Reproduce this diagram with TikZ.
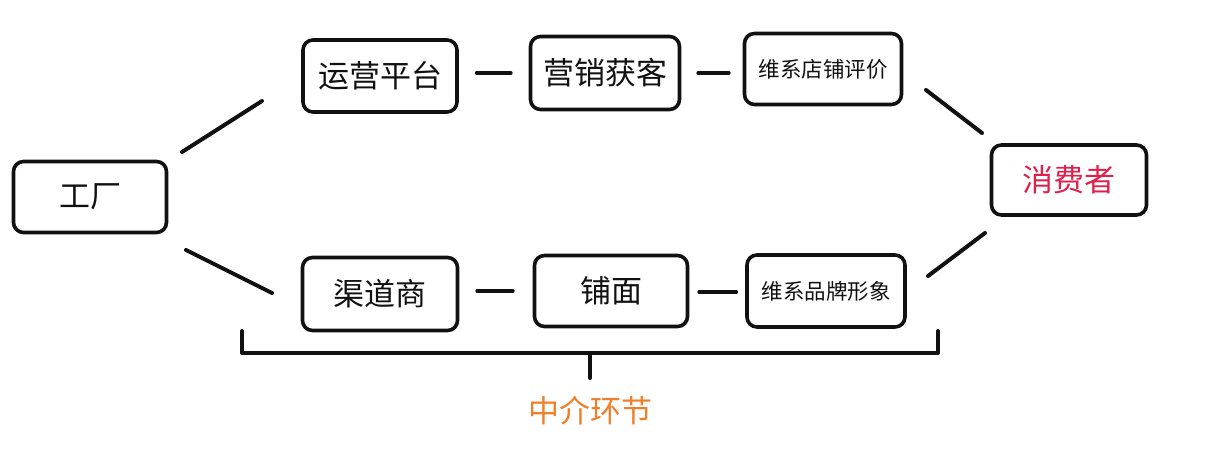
\documentclass[tikz,border=0pt]{standalone}
\usepackage{fontspec}
\newfontfamily\cjk{Noto Sans CJK SC}
\definecolor{consumer}{HTML}{E0204A}
\definecolor{midorange}{HTML}{F07F2A}
\definecolor{ink}{HTML}{111111}
\begin{document}
\begin{tikzpicture}[x=1pt,y=-1pt,
  box/.style={draw=ink,line width=3.6pt,rounded corners=10pt,inner sep=0pt,align=center,text=ink,font=\cjk\fontsize{31}{31}\selectfont},
  small/.style={font=\cjk\fontsize{21.5}{22}\selectfont},
  link/.style={draw=ink,line width=4pt,line cap=round}]
\useasboundingbox[fill=white] (0,0) rectangle (1207,448);
% nodes
\node[box,minimum width=153pt,minimum height=71pt] (f) at (90,197) {工厂};
\node[box,minimum width=154pt,minimum height=72pt] (a1) at (380,76) {运营平台};
\node[box,minimum width=149pt,minimum height=73pt] (a2) at (605,73) {营销获客};
\node[box,small,minimum width=157pt,minimum height=71pt] (a3) at (823,69) {维系店铺评价};
\node[box,minimum width=155pt,minimum height=70pt,text=consumer] (c) at (1069,180) {消费者};
\node[box,minimum width=155pt,minimum height=73pt] (b1) at (380,294) {渠道商};
\node[box,minimum width=153pt,minimum height=71pt] (b2) at (611,291) {铺面};
\node[box,small,minimum width=158pt,minimum height=72pt] (b3) at (826,291) {维系品牌形象};
% free-floating diagonal connectors
\coordinate (d1s) at (182,152); \coordinate (d1e) at (262,101);
\coordinate (d2s) at (186,250); \coordinate (d2e) at (272,293);
\coordinate (d3s) at (926,90);  \coordinate (d3e) at (982,133);
\coordinate (d4s) at (928,276); \coordinate (d4e) at (985,233);
\draw[link] (d1s) -- (d1e);
\draw[link] (d2s) -- (d2e);
\draw[link] (d3s) -- (d3e);
\draw[link] (d4s) -- (d4e);
% short dashes between boxes
\draw[link,shorten <=18pt,shorten >=18pt] (a1.east |- 0,73) -- (a2.west |- 0,73);
\draw[link,shorten <=17pt,shorten >=14pt] (a2.east |- 0,73) -- (a3.west |- 0,73);
\draw[link,shorten <=18pt,shorten >=20pt] (b1.east |- 0,291) -- (b2.west |- 0,291);
\draw[link,shorten <=10pt,shorten >=9pt] (b2.east |- 0,292) -- (b3.west |- 0,292);
% bracket
\coordinate (bl) at (242,331); \coordinate (br) at (938,331);
\coordinate (bm) at (590,353); \coordinate (bt) at (590,378);
\draw[draw=ink,line width=4pt,line cap=round,line join=round] (bl) -- (bl |- bm) -- (br |- bm) -- (br);
\draw[link] (bm) -- (bt);
\node[font=\cjk\fontsize{31}{31}\selectfont,text=midorange,inner sep=0pt] (mid) at (590,411) {中介环节};
\end{tikzpicture}
\end{document}
